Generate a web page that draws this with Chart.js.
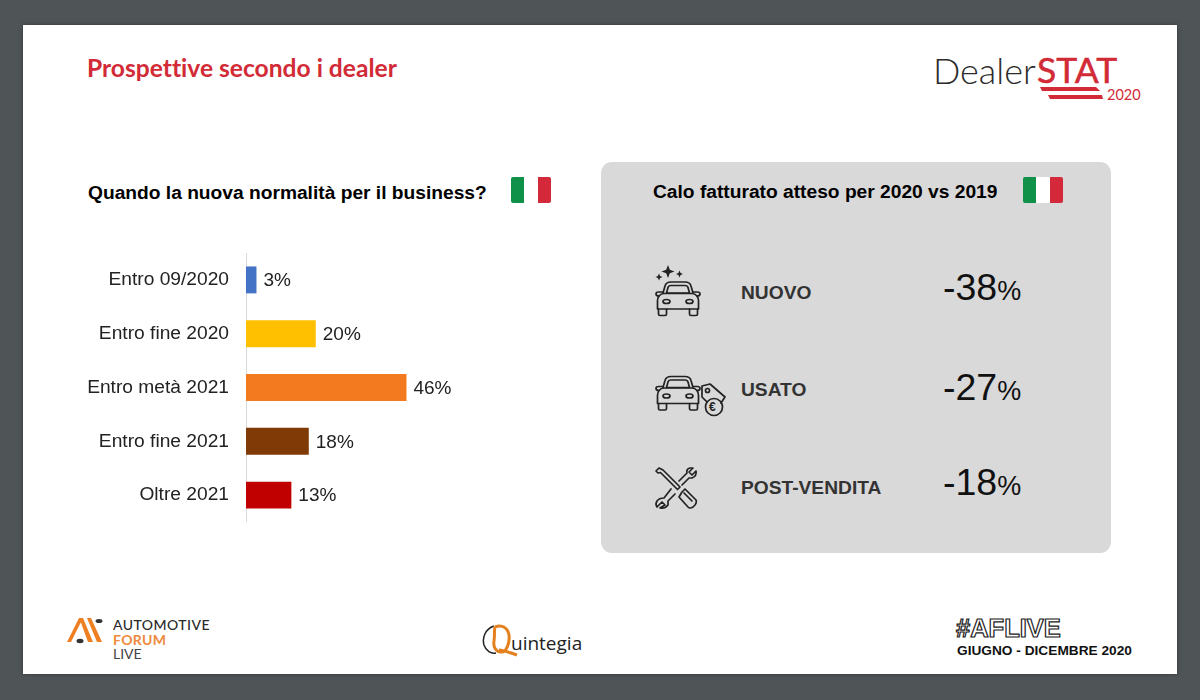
<!DOCTYPE html>
<html lang="it">
<head>
<meta charset="utf-8">
<title>Prospettive secondo i dealer</title>
<script src="https://cdn.jsdelivr.net/npm/chart.js@4"></script>
<style>
  html, body { margin: 0; padding: 0; }
  body { width: 1200px; height: 700px; background: #4f5457; overflow: hidden; position: relative; font-family: "Liberation Sans", Arial, sans-serif; }
  #slide { position: absolute; left: 23px; top: 25px; width: 1154px; height: 649px; background: #fff; box-shadow: 0 0 4px #33373a; }
  #panel { position: absolute; left: 601px; top: 162px; width: 510px; height: 391px; background: #d9d9d9; border-radius: 11px; }
  #chartBox { position: absolute; left: 60px; top: 253px; width: 500px; height: 269px; }
  .t { position: absolute; white-space: nowrap; line-height: 1; }
  .flag { position: absolute; width: 40px; height: 26px; display: flex; border-radius: 2px; overflow: hidden; }
  .flag i { flex: 1; display: block; }
  .flag i:nth-child(1) { background: #0f9149; }
  .flag i:nth-child(2) { background: #fff; }
  .flag i:nth-child(3) { background: #d3293a; }
  svg.ic { position: absolute; fill: none; stroke: #222; stroke-width: 1.7; stroke-linejoin: round; stroke-linecap: round; overflow: visible; }
</style>
</head>
<body>
<div id="slide"></div>
<div id="panel"></div>

<div class="t" style="left:87px;top:53px;font:700 24.6px Lato;font-variant-ligatures:none;color:#d22a36">Prospettive secondo i dealer</div>

<!-- DealerSTAT logo -->
<div class="t" style="left:933px;top:48px;font:300 36px Lato;color:#2b2b2b">Dealer</div>
<div class="t" style="left:1037px;top:48px;font:400 35.5px Lato;color:#d22a36;-webkit-text-stroke:.5px #d22a36">STAT</div>
<div class="t" style="left:1107px;top:86px;font:400 14.5px Lato;color:#d22a36">2020</div>
<svg style="position:absolute;left:1040px;top:86px" width="66" height="14">
  <polygon points="0,1 56,1 60,5 2,5" fill="#d22a36"/>
  <polygon points="8,9 62,9 63,13 10,13" fill="#d22a36"/>
</svg>

<!-- left heading -->
<div class="t" style="left:88px;top:183px;font-weight:700;font-size:19.2px;color:#000">Quando la nuova normalità per il business?</div>
<div class="flag" style="left:511px;top:177px"><i></i><i></i><i></i></div>

<div id="chartBox"><canvas id="barChart"></canvas></div>

<!-- right panel -->
<div class="t" style="left:653px;top:182px;font-weight:700;font-size:19.2px;color:#000">Calo fatturato atteso per 2020 vs 2019</div>
<div class="flag" style="left:1023px;top:177px"><i></i><i></i><i></i></div>
<div id="kpis"></div>

<svg width="0" height="0" style="position:absolute">
  <symbol id="car" viewBox="0 0 46 35" overflow="visible">
    <path d="M8 12L10 5Q11 1 16 1H30Q35 1 36 5L38 12"/>
    <path d="M11.500 12L13 6.500Q13.500 4.500 16 4.500H30Q32.500 4.500 33 6.500L34.500 12Z"/>
    <path d="M8 11H3.500Q1 11 1 13Q1 15 4 15M38 11H42.500Q45 11 45 13Q45 15 42 15"/>
    <path d="M4 15Q2.500 17 2.500 20V28H43.500V20Q43.500 17 42 15Q40 12.500 37 12.500H9Q6 12.500 4 15Z"/>
    <path d="M3.500 28V33Q3.500 34.500 5 34.500H10Q11.500 34.500 11.500 33V28M34.500 28V33Q34.500 34.500 36 34.500H41Q42.500 34.500 42.500 33V28"/>
    <ellipse cx="11.500" cy="20.500" rx="3.500" ry="2"/>
    <ellipse cx="34.500" cy="20.500" rx="3.500" ry="2"/>
  </symbol>
</svg>

<svg class="ic" style="left:655px;top:265px" width="46" height="51" viewBox="0 0 46 51">
  <path d="M13 0l1.800 4.700 4.700 1.800-4.700 1.800-1.800 4.700-1.800-4.700-4.700-1.800 4.700-1.800zM4 8.500l1.100 2.400 2.400 1.100-2.400 1.100-1.100 2.400-1.100-2.400-2.400-1.100 2.400-1.100zM24.500 5.500l1.100 2.400 2.400 1.100-2.400 1.100-1.100 2.400-1.100-2.400-2.400-1.100 2.400-1.100z" fill="#222" stroke="none"/>
  <use href="#car" x="0" y="16" width="46" height="35"/>
</svg>
<svg class="ic" style="left:655px;top:375px" width="72" height="43" viewBox="0 0 72 43">
  <use href="#car" x="0" y="0" width="46" height="36"/>
  <path d="M47 11L55 9 70 22 66 28M47 11L47 22 52 27"/>
  <circle cx="52.500" cy="15.500" r="2"/>
  <circle cx="59" cy="32" r="8.500"/>
</svg>
<div class="t" style="left:709px;top:401px;font-size:12px;font-weight:700;color:#222">€</div>
<svg class="ic" style="left:655px;top:467px" width="42" height="42" viewBox="0 0 42 42">
  <path d="M1 4L4 1 8 3 25 20 22.500 22.500 5.500 5.500 3 6zM27 25L30 22 41 33Q42 35 40 38L38 40Q35 42 33 40L24 30z"/>
  <path d="M33 30L37 34M29 26L33 30"/>
  <path d="M24 14L32 6Q31 2 35 1L38 1 34 5 37 8 41 4Q42 9 37 11L34 11 27 18M16 22L9 31Q4 31 2 34T2 40L7 35 10 38 5 41Q10 42 13 38L13 34 20 27"/>
</svg>

<!-- footer logos -->
<svg style="position:absolute;left:67px;top:617px" width="40" height="28" viewBox="0 0 40 28">
  <path d="M0 25L12 1H16L4 25ZM13 3L16 1 26 25H21ZM20 1H24L35 25H30Z" fill="#ee7f22"/>
  <ellipse cx="32" cy="4" rx="3.500" ry="2" fill="#333"/><ellipse cx="13" cy="24" rx="3.500" ry="2.200" fill="#333"/>
</svg>
<div class="t" style="left:113px;top:616px;font:500 14px Lato;letter-spacing:.45px;color:#2a2a2a">AUTOMOTIVE</div>
<div class="t" style="left:113px;top:631px;font:700 14px Lato;letter-spacing:.3px;color:#ee8a3c">FORUM</div>
<div class="t" style="left:113px;top:645px;font:400 14px Lato;color:#444">LIVE</div>

<svg style="position:absolute;left:482px;top:624px" width="38" height="34" viewBox="0 0 38 34" fill="none">
  <path d="M12 2C3 5 0 14 2 21c2 6 7 9 12 8" stroke="#222" stroke-width="1.500"/>
  <path d="M13 3c7-3 13 1 14 8 1 8-3 18-8 17-5 0-8-5-7-11 1-8 0-12 1-14M17 26c5 0 11 3 18 5" stroke="#e5801f" stroke-width="3"/>
</svg>
<div class="t" style="left:511px;top:630px;font:500 19px 'Open Sans';color:#222">uintegia</div>

<div class="t" style="left:956px;top:614px;font:700 25.500px 'Liberation Sans';color:#fff;-webkit-text-stroke:1.200px #222">#AFLIVE</div>
<div class="t" style="left:957px;top:644px;font-weight:700;font-size:13.700px;color:#111">GIUGNO - DICEMBRE 2020</div>

<script>
// bar chart data
const categories = ['Entro 09/2020', 'Entro fine 2020', 'Entro metà 2021', 'Entro fine 2021', 'Oltre 2021'];
const shares = [3, 20, 46, 18, 13];
const barColors = ['#4472c4', '#ffc000', '#f47a20', '#7f3a06', '#c00000'];

// right panel figures
const kpiNames = ['NUOVO', 'USATO', 'POST-VENDITA'];
const kpiValues = [-38, -27, -18];
const kpiNameTops = [283, 380, 478];
const kpiValueTops = [269, 369, 464];

kpiNames.forEach((name, i) => {
    const box = document.getElementById('kpis');
    box.insertAdjacentHTML('beforeend',
        `<div class="t" style="left:741px;top:${kpiNameTops[i]}px;font-weight:700;font-size:19.2px;color:#333">${name}</div>` +
        `<div class="t" style="left:943px;top:${kpiValueTops[i]}px;font-size:37.5px;color:#111">${kpiValues[i]}<span style="font-size:27px">%</span></div>`);
});

// writes the percent next to each bar
const valueLabels = {
    id: 'valueLabels',
    afterDatasetsDraw(chart) {
        const ctx = chart.ctx;
        ctx.save();
        ctx.font = '19px "Liberation Sans"';
        ctx.fillStyle = '#222';
        ctx.textBaseline = 'middle';
        chart.getDatasetMeta(0).data.forEach((bar, i) => {
            ctx.fillText(shares[i] + '%', bar.x + 7, bar.y + 1);
        });
        ctx.restore();
    }
};

new Chart(document.getElementById('barChart'), {
    type: 'bar',
    data: {
        labels: categories,
        datasets: [{
            data: shares,
            backgroundColor: barColors,
            barPercentage: 0.5,
            categoryPercentage: 1
        }]
    },
    options: {
        indexAxis: 'y',
        responsive: true,
        maintainAspectRatio: false,
        animation: false,
        layout: { padding: 0 },
        plugins: { legend: { display: false }, tooltip: { enabled: false } },
        scales: {
            x: { display: false, min: 0, max: 90 },
            y: {
                afterFit: scale => {
                    scale.width = 186;
                    // tick padding would otherwise shrink the axis height too
                    scale.paddingTop = 0;
                    scale.paddingBottom = 0;
                },
                grid: { display: false, drawTicks: false },
                border: { display: true, color: '#d9d9d9', width: 1 },
                ticks: { color: '#222', padding: 17, font: { family: 'Liberation Sans', size: 19.2 } }
            }
        }
    },
    plugins: [valueLabels]
});
</script>
</body>
</html>
